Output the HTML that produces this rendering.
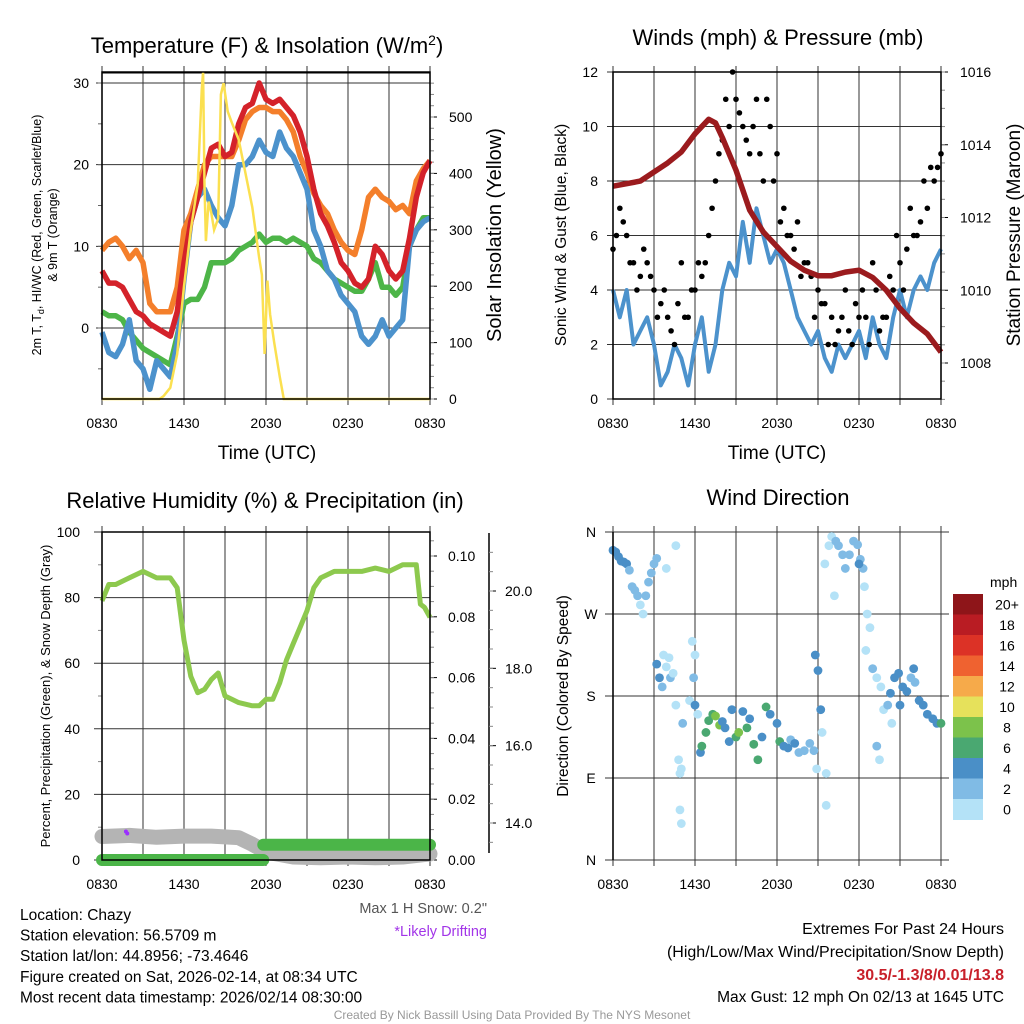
<!DOCTYPE html>
<html><head><meta charset="utf-8">
<style>
body{margin:0;background:#fff;}
svg{display:block;font-family:"Liberation Sans",Arial,sans-serif;}
</style></head>
<body>
<svg id="c" width="1024" height="1024" viewBox="0 0 1024 1024" xmlns="http://www.w3.org/2000/svg">
<rect width="1024" height="1024" fill="#fff"/>
</svg>
<script>
// ---------- DATA ----------
const hours=[0,0.5,1,1.5,2,2.5,3,3.5,4,4.5,5,5.5,6,6.5,7,7.5,8,8.5,9,9.5,10,10.5,11,11.5,12,12.5,13,13.5,14,14.5,15,15.5,16,16.5,17,17.5,18,18.5,19,19.5,20,20.5,21,21.5,22,22.5,23,23.5,24];
const xTickLabels=["0830","1430","2030","0230","0830"];
const tempRed=[7,5.5,5.5,5,3.5,2,1.5,0.5,0,-0.5,-1,2,8,13,16,19,22,22.5,21,21.5,25,27,27.5,30,28,27.5,28,27,26,24,21,17,14,12.5,10.5,8,7,5.5,5,6,10,9,7,6,7,11,16,19,20.5];
const temp9mOrange=[9.5,10.5,11,10,8.5,9.5,8,3,2,2,2,5,12,14,17,20,21,21,21,21,23,25.5,26.5,27,27,26.5,26.5,25.5,24,21,19,16.5,15,14,12,10.5,9.5,9,12,16,17,16,15.5,14.5,15,14,18,19.5,20.5];
const dewGreen=[2,1.5,1.5,1,-0.5,-1.5,-2.5,-3,-3.5,-4,-4.5,-1,3,3.5,3.5,5,8,8,8,8.5,9.5,10,10.5,11.5,10.5,11,11,10.5,11,10.5,10,8.5,8,7,6,5.5,5,4.5,4.5,6,8,5,5,4,5,10,12,13.5,13.5];
const windChillBlue=[-0.5,-3,-3.5,-2,1,-4,-5,-7.5,-4,-5,-6,-2,6,13,16,17,15,13.5,12.5,15,20,20,21,23,21.5,21,24,22,21,19,17,12,10,7,6,4,3,2,-1,-2,-1,1,-1,0,1,10,12,13,13.5];
const solarTimes=[0,4.2,4.5,5,5.5,6,6.5,7,7.3,7.4,7.5,7.6,7.8,8,8.2,8.5,8.7,8.9,9.2,9.5,10,10.5,11,11.5,11.7,11.9,12.1,12.3,12.6,13,13.3,24];
const solarValues=[0,0,5,20,80,200,300,380,550,580,380,280,350,330,300,320,540,560,510,490,460,400,340,250,220,80,210,150,100,40,0,0];
const tempTicks=[0,10,20,30];
const solarTicks=[0,100,200,300,400,500];

const windBlue=[4,3,4,2,2.5,3,2,0.5,1,2,1.5,0.5,2,3,1,2,4,5,4.5,6.5,5,7,6,5,5.5,5,4,3,2.5,2,2.5,1.5,1,2,1.5,2,2.5,1.5,3,2,1.5,3,4,3,4,4.5,4,5,5.5];
const gustA=[5.5,7,6,5,4.5,5,4,3.5,3,2,5,3,4,4.5,6,8,9.5,10,11,10,9,11,8,10,9,7,6,6.5,5,4.5,4,3.5,3,2.5,4,2,3,3,5,2.5,3,4,5,5.5,6,6.5,7,8,9];
const gustB=[6,6.5,5,4,5.5,4.5,3,4,2.5,3.5,3,4,5,5,7,9,11,12,10.5,9.5,10,9,11,8,6.5,6,5.5,4.5,5,3,3.5,2,2,3,2.5,3.5,4,2,4,3,4.5,6,4,7,6,8,8.5,8.5];
const pressureTimes=[0,2,4,5,6,7,7.5,8,9,10,11,12,13,14,15,16,17,18,19,20,21,22,23,24];
const pressureValues=[1012.86,1013.0,1013.5,1013.8,1014.3,1014.7,1014.6,1014.2,1013.3,1012.2,1011.6,1011.2,1010.8,1010.55,1010.4,1010.4,1010.5,1010.55,1010.35,1010.0,1009.5,1009.1,1008.8,1008.3];
const windTicks=[0,2,4,6,8,10,12];
const pressureTicks=[1008,1010,1012,1014,1016];

const rhTimes=[0,0.5,1,2,3,4,5,5.5,6,6.5,7,7.5,8,8.5,9,9.5,10,11,11.5,12,12.5,13,13.5,14,14.5,15,15.5,16,17,18,19,20,21,22,23,23.3,23.6,24];
const rhValues=[79,84,84,86,88,86,86,83,67,56,51,52,55,57,50,49,48,47,47,49,49,54,61,66,71,76,83,86,88,88,88,89,88,90,90,78,77,74];
const snowTimes=[0,2,4,6,8,10,11,12,14,16,18,20,22,24];
const snowDepth=[13.65,13.68,13.63,13.66,13.66,13.62,13.45,13.25,13.12,13.1,13.12,13.1,13.12,13.2];
const precipTimes=[0,11.8,11.8,24];
const precipValues=[0,0,0.005,0.005];
const rhTicks=[0,20,40,60,80,100];
const precipTicks=[0,0.02,0.04,0.06,0.08,0.10];
const snowTicks=[14,16,18,20];

const dirTimes=[0,0.2,0.4,0.6,0.8,1.0,1.2,1.4,1.6,1.8,2.0,2.2,2.4,2.6,2.8,3.0,3.2,3.2,3.4,3.6,3.7,3.9,4.1,4.2,4.4,4.6,3.9,4.6,4.8,4.9,5.0,4.9,5.0,5.1,5.6,5.8,6.0,5.9,6.0,6.2,6.4,6.5,6.8,7.0,7.3,7.5,7.8,8.0,8.2,8.5,8.7,9.0,9.2,9.5,9.8,10.0,10.3,10.6,10.9,11.2,11.5,12.0,12.2,12.5,12.8,13.0,13.3,13.6,14.0,14.4,14.7,14.9,14.8,15.0,15.2,15.3,15.6,15.6,15.5,15.8,16.0,16.3,16.5,16.8,17.0,17.3,17.6,17.9,18.1,18.3,16.2,18.0,18.4,18.6,18.8,18.5,19.0,19.3,19.6,19.8,20.1,20.4,20.6,20.9,21.2,21.5,21.8,22.1,22.4,22.7,23.0,23.4,23.7,24.0,21.0,22.0,20.3,19.3,19.5];
const dirDegrees=[340,338,333,328,327,325,318,300,296,290,280,270,290,305,315,325,331,215,200,190,225,212,222,200,205,345,320,170,110,95,100,55,40,150,175,240,225,200,170,160,118,125,140,153,160,158,148,152,145,130,165,135,140,163,145,155,127,110,135,168,160,150,130,125,123,132,128,118,120,128,120,100,225,208,165,140,95,60,325,345,355,350,345,335,320,335,350,346,330,320,290,325,300,270,255,230,210,200,190,165,170,150,200,205,190,185,200,195,175,170,160,155,150,150,170,210,183,125,110];
const dirSpeeds=[4,4,4,4,4,4,3,2,2,2,1,1,2,2,2,2,2,4,4,3,1,1,0,2,1,0,0,1,1,0,0,0,0,2,0,0,1,3,4,1,4,6,6,6,6,8,8,4,4,4,4,6,8,4,6,4,6,6,4,6,4,4,6,4,4,2,4,2,2,2,2,0,4,4,4,1,0,0,1,0,0,2,2,2,2,2,2,2,2,2,0,4,0,0,0,0,2,1,0,1,2,1,4,4,4,4,2,2,4,4,4,4,4,6,4,4,4,2,1];
const speedBins=["0","2","4","6","8","10","12","14","16","18","20+"];
const binColors=["#b4e2f7","#80bbe5","#4a8fc7","#4aa871","#7cc24b","#e6e15b","#f6aa4a","#ef6230","#dc3226","#b91c23","#8e1519"];
const dirTickLabels=["N","E","S","W","N"];
const dirTickValues=[0,90,180,270,360];

// ---------- HELPERS ----------
const NS="http://www.w3.org/2000/svg";
const svg=document.getElementById('c');
function el(tag,attrs,parent,text){const e=document.createElementNS(NS,tag);for(const k in attrs)e.setAttribute(k,attrs[k]);if(text!==undefined)e.textContent=text;(parent||svg).appendChild(e);return e;}
function linear(d0,d1,r0,r1){return v=>r0+(v-d0)*(r1-r0)/(d1-d0);}
function pathFrom(xs,ys,fx,fy){return xs.map((x,i)=>(i?'L':'M')+fx(x).toFixed(1)+','+fy(ys[i]).toFixed(1)).join('');}

function panelFrame(x0,x1,y0,y1,fx,name){
  const g=el('g',{});
  
  
  for(let h=0;h<=24;h+=3){el('line',{x1:fx(h),x2:fx(h),y1:y0-6,y2:y1+6,stroke:'#555','stroke-width':1.2},g);}
  const xl=el('g',{});
  
  
  xTickLabels.forEach((t,i)=>{el('text',{x:fx(i*6),y:y1+29,'font-size':14,'text-anchor':'middle'},xl,t);});
  return g;
}

// ================= PANEL 1 =================
(function(){
 const x0=102,x1=430,y0=72,y1=399;
 const fx=linear(0,24,x0,x1), fy=linear(0,30,328,83), fs=linear(0,500,399,117);
 el('text',{x:267,y:53,'font-size':22,'text-anchor':'middle',},svg).innerHTML='Temperature (F) &amp; Insolation (W/m<tspan dy="-8" font-size="14">2</tspan><tspan dy="8">)</tspan>';
 panelFrame(x0,x1,y0,y1,fx,'temperature');
 tempTicks.forEach(v=>{el('line',{x1:x0-6,x2:x1,y1:fy(v),y2:fy(v),stroke:'#333','stroke-width':1});el('text',{x:x0-13,y:fy(v)+5,'font-size':14,'text-anchor':'end'},svg,String(v));});
 el('line',{x1:x0,x2:x1,y1:y0+1,y2:y0+1,stroke:'#000','stroke-width':1});
 for(let v=-5;v<=30;v+=5){el('line',{x1:x0-4,x2:x0,y1:fy(v),y2:fy(v),stroke:'#666'});}
 solarTicks.forEach(v=>{el('line',{x1:x1,x2:x1+7,y1:fs(v),y2:fs(v),stroke:'#000'});el('text',{x:x1+19,y:fs(v)+5,'font-size':14},svg,String(v));});
 for(let v=0;v<=575;v+=20){el('line',{x1:x1,x2:x1+4,y1:fs(v),y2:fs(v),stroke:'#888'});}
 const series=[[temp9mOrange,'#f47f2b','orange-9m-temp-line'],[dewGreen,'#4db548','green-dewpoint-line'],[windChillBlue,'#4c92cc','blue-windchill-line'],[tempRed,'#d4222a','red-2m-temp-line']];
 series.forEach(s=>{const p=el('path',{d:pathFrom(hours,s[0],fx,fy),fill:'none',stroke:s[1],'stroke-width':5.5,'stroke-linejoin':'round'});});
 const sp=el('path',{d:pathFrom(solarTimes,solarValues,fx,fs),fill:'none',stroke:'#fbe050','stroke-width':2.5});
 
 el('rect',{x:x0,y:y0,width:x1-x0,height:y1-y0,fill:'none',stroke:'#000','stroke-width':1.5});
 el('text',{x:267,y:459,'font-size':19,'text-anchor':'middle',},svg,'Time (UTC)');
 el('text',{transform:'translate(41,235) rotate(-90)','font-size':12.5,'text-anchor':'middle',},svg).innerHTML='2m T, T<tspan dy="3" font-size="9">d</tspan><tspan dy="-3">, HI/WC (Red, Green, Scarlet/Blue)</tspan>';
 el('text',{transform:'translate(57,235) rotate(-90)','font-size':12.5,'text-anchor':'middle'},svg,'& 9m T (Orange)');
 el('text',{transform:'translate(501,235) rotate(-90)','font-size':20,'text-anchor':'middle',},svg,'Solar Insolation (Yellow)');
})();

// ================= PANEL 2 =================
(function(){
 const x0=613,x1=941,y0=72,y1=399;
 const fx=linear(0,24,x0,x1), fy=linear(0,12,399,72), fp=linear(1008,1016,363,72);
 el('text',{x:778,y:45,'font-size':22,'text-anchor':'middle',},svg,'Winds (mph) & Pressure (mb)');
 panelFrame(x0,x1,y0,y1,fx,'winds');
 windTicks.forEach(v=>{el('line',{x1:x0-6,x2:x1,y1:fy(v),y2:fy(v),stroke:'#333'});el('text',{x:x0-15,y:fy(v)+5,'font-size':14,'text-anchor':'end'},svg,String(v));});
 pressureTicks.forEach(v=>{el('line',{x1:x1,x2:x1+7,y1:fp(v),y2:fp(v),stroke:'#000'});el('text',{x:x1+19,y:fp(v)+5,'font-size':14},svg,String(v));});
 for(let v=1007;v<=1016.2;v+=0.5){el('line',{x1:x1,x2:x1+4,y1:fp(v),y2:fp(v),stroke:'#888'});}
 const wp=el('path',{d:pathFrom(hours,windBlue,fx,fy),fill:'none',stroke:'#4c92cc','stroke-width':4,'stroke-linejoin':'round'});
 
 const gg=el('g',{});
 gustA.forEach((v,i)=>{el('circle',{cx:fx(i*0.5),cy:fy(v),r:2.8,fill:'#000'},gg);});
 gustB.forEach((v,i)=>{el('circle',{cx:fx(i*0.5+0.25),cy:fy(v),r:2.8,fill:'#000'},gg);});
 const pp=el('path',{d:pathFrom(pressureTimes,pressureValues,fx,fp),fill:'none',stroke:'#9b1b1e','stroke-width':5.5,'stroke-linejoin':'round'});
 
 el('rect',{x:x0,y:y0,width:x1-x0,height:y1-y0,fill:'none',stroke:'#000','stroke-width':1.5});
 el('text',{x:777,y:459,'font-size':19,'text-anchor':'middle',},svg,'Time (UTC)');
 el('text',{transform:'translate(566,235) rotate(-90)','font-size':15.5,'text-anchor':'middle',},svg,'Sonic Wind & Gust (Blue, Black)');
 el('text',{transform:'translate(1020,235) rotate(-90)','font-size':19,'text-anchor':'middle',},svg,'Station Pressure (Maroon)');
})();

// ================= PANEL 3 =================
(function(){
 const x0=102,x1=430,y0=532,y1=860;
 const fx=linear(0,24,x0,x1), fy=linear(0,100,860,532), fpr=linear(0,0.10,860,556), fsn=linear(14,20,823,591);
 el('text',{x:265,y:508,'font-size':22,'text-anchor':'middle',},svg,'Relative Humidity (%) & Precipitation (in)');
 panelFrame(x0,x1,y0,y1,fx,'humidity');
 rhTicks.forEach(v=>{el('line',{x1:x0-8,x2:x1,y1:fy(v),y2:fy(v),stroke:'#333'});el('text',{x:x0-22,y:fy(v)+5,'font-size':14,'text-anchor':'end'},svg,String(v));});
 for(let v=10;v<100;v+=20){el('line',{x1:x0-4,x2:x0,y1:fy(v),y2:fy(v),stroke:'#888'});}
 precipTicks.forEach(v=>{el('line',{x1:x1,x2:x1+7,y1:fpr(v),y2:fpr(v),stroke:'#000'});el('text',{x:x1+18,y:fpr(v)+5,'font-size':14},svg,v.toFixed(2));});
 for(let v=0;v<=0.106;v+=0.005){el('line',{x1:x1,x2:x1+4,y1:fpr(v),y2:fpr(v),stroke:'#888'});}
 el('line',{x1:489,x2:489,y1:533,y2:853,stroke:'#000','stroke-width':1.5,});
 snowTicks.forEach(v=>{el('line',{x1:489,x2:496,y1:fsn(v),y2:fsn(v),stroke:'#000'});el('text',{x:505,y:fsn(v)+5,'font-size':14},svg,v.toFixed(1));});
 for(let v=13.5;v<=21;v+=0.5){el('line',{x1:489,x2:493,y1:fsn(v),y2:fsn(v),stroke:'#888'});}
 const sn=el('path',{d:pathFrom(snowTimes,snowDepth,fx,fsn),fill:'none',stroke:'#b4b4b4','stroke-width':15,'stroke-linecap':'round','stroke-linejoin':'round'});
 
 el('circle',{cx:fx(1.75),cy:fsn(13.65)-5,r:2,fill:'#9b30ff'});el('circle',{cx:fx(1.85),cy:fsn(13.65)-3,r:2,fill:'#9b30ff'});
 const pr=el('path',{d:'M'+fx(precipTimes[0])+','+fpr(precipValues[0])+'L'+fx(precipTimes[1])+','+fpr(precipValues[1])+'M'+fx(precipTimes[2])+','+fpr(precipValues[2])+'L'+fx(precipTimes[3])+','+fpr(precipValues[3]),fill:'none',stroke:'#4bb548','stroke-width':12,'stroke-linecap':'round'});
 
 const rh=el('path',{d:pathFrom(rhTimes,rhValues,fx,fy),fill:'none',stroke:'#8dc94e','stroke-width':5,'stroke-linejoin':'round'});
 
 el('rect',{x:x0,y:y0,width:x1-x0,height:y1-y0,fill:'none',stroke:'#000','stroke-width':1.5});
 el('text',{transform:'translate(50,696) rotate(-90)','font-size':13,'text-anchor':'middle',},svg,'Percent, Precipitation (Green), & Snow Depth (Gray)');
})();

// ================= PANEL 4 =================
(function(){
 const x0=613,x1=941,y0=532,y1=860;
 const fx=linear(0,24,x0,x1), fy=linear(0,360,860,532);
 el('text',{x:778,y:505,'font-size':22,'text-anchor':'middle',},svg,'Wind Direction');
 panelFrame(x0,x1,y0,y1,fx,'direction');
 dirTickValues.forEach((v,i)=>{el('line',{x1:x0-8,x2:x1+8,y1:fy(v),y2:fy(v),stroke:'#333'});el('text',{x:x0-22,y:fy(v)+5,'font-size':14,'text-anchor':'middle'},svg,dirTickLabels[i]);});
 const dg=el('g',{});
 dirTimes.forEach((t,i)=>{const b=Math.min(10,Math.floor(dirSpeeds[i]/2));el('circle',{cx:fx(t),cy:fy(dirDegrees[i]),r:4.4,fill:binColors[b]},dg);});
 el('line',{x1:x0,x2:x0,y1:y0,y2:y1,stroke:'#000','stroke-width':1.5});
 el('text',{transform:'translate(568,696) rotate(-90)','font-size':15.5,'text-anchor':'middle',},svg,'Direction (Colored By Speed)');
 const cb=el('g',{});
 el('text',{x:990,y:587,'font-size':14},cb,'mph');
 const top=594,h=20.5;
 for(let i=10;i>=0;i--){const yy=top+(10-i)*h;el('rect',{x:953,y:yy,width:30,height:h+0.5,fill:binColors[i]},cb);el('text',{x:1007,y:yy+h/2+5,'font-size':14,'text-anchor':'middle'},cb,speedBins[i]);}
})();

// ================= TEXT =================
const info=["Location: Chazy","Station elevation: 56.5709 m","Station lat/lon: 44.8956; -73.4646","Figure created on Sat, 2026-02-14, at 08:34 UTC","Most recent data timestamp: 2026/02/14 08:30:00"];
const ig=el('g',{});
info.forEach((s,i)=>el('text',{x:20,y:920+i*20.6,'font-size':15.5},ig,s));
el('text',{x:487,y:913,'font-size':14.5,'text-anchor':'end',fill:'#555',},svg,'Max 1 H Snow: 0.2"');
el('text',{x:487,y:936,'font-size':14.5,'text-anchor':'end',fill:'#a235e8',},svg,'*Likely Drifting');
const eg=el('g',{});
el('text',{x:1004,y:934,'font-size':16,'text-anchor':'end'},eg,'Extremes For Past 24 Hours');
el('text',{x:1004,y:957,'font-size':16,'text-anchor':'end'},eg,'(High/Low/Max Wind/Precipitation/Snow Depth)');
el('text',{x:1004,y:980,'font-size':16,'text-anchor':'end','font-weight':'bold',fill:'#c8202a'},eg,'30.5/-1.3/8/0.01/13.8');
el('text',{x:1004,y:1002,'font-size':15.5,'text-anchor':'end'},eg,'Max Gust: 12 mph On 02/13 at 1645 UTC');
el('text',{x:512,y:1019,'font-size':12,'text-anchor':'middle',fill:'#999',},svg,'Created By Nick Bassill Using Data Provided By The NYS Mesonet');
</script>
</body></html>
